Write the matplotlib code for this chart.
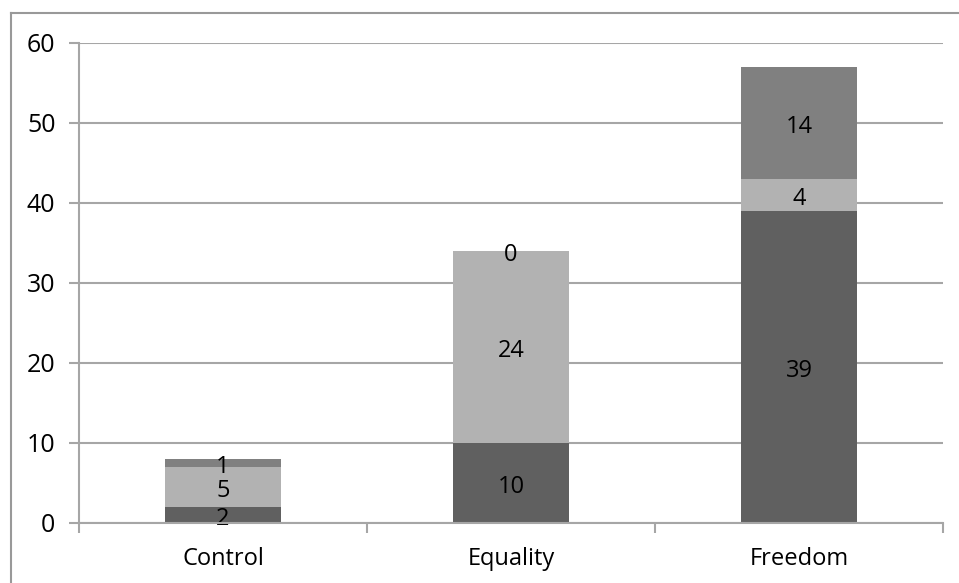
import matplotlib.pyplot as plt
from matplotlib.lines import Line2D
import numpy as np

plt.rcParams['font.family'] = ['Open Sans', 'DejaVu Sans']

# Data
categories = ['Control', 'Equality', 'Freedom']
bottom_vals = [2, 10, 39]
middle_vals = [5, 24, 4]
top_vals = [1, 0, 14]

colors = ['#606060', '#b2b2b2', '#808080']

fig = plt.figure(figsize=(9.59, 5.83), dpi=100)
ax = fig.add_axes([79 / 959, 1 - 523 / 583, (943 - 79) / 959, (523 - 43) / 583])

x = np.arange(len(categories))
base = np.zeros(len(categories))
for vals, c in zip([bottom_vals, middle_vals, top_vals], colors):
    ax.bar(x, vals, width=0.4, bottom=base, color=c, zorder=3)
    # value labels in the middle of each segment
    for xi, b, v in zip(x, base, vals):
        ax.annotate(str(v), (xi, b + v / 2), xytext=(0, -3), textcoords='offset points',
                    ha='center', va='center', fontsize=17, color='black', zorder=4)
    base += np.array(vals)

ax.set_xlim(-0.5, 2.5)
ax.set_ylim(0, 60)
ax.set_yticks(range(0, 61, 10))
ax.yaxis.grid(True, color='#a6a6a6', linewidth=1.5, zorder=0)

# category boundary ticks like Excel
ax.set_xticks([-0.5, 0.5, 1.5, 2.5])
ax.set_xticklabels([])
ax.set_xticks(x, minor=True)
ax.set_xticklabels(categories, minor=True, fontsize=17)
ax.tick_params(axis='x', which='minor', length=0, pad=17)
ax.tick_params(axis='x', which='major', length=7, width=1.5, color='#a6a6a6')
ax.tick_params(axis='y', length=7, width=1.5, color='#a6a6a6', labelsize=18, pad=10)

for s in ['top', 'right']:
    ax.spines[s].set_visible(False)
for s in ['left', 'bottom']:
    ax.spines[s].set_color('#a6a6a6')
    ax.spines[s].set_linewidth(1.5)
    ax.spines[s].set_zorder(5)

# outer chart frame
fig.add_artist(Line2D([10.5 / 959, 10.5 / 959], [0, 1 - 13 / 583],
                      transform=fig.transFigure, color='#999999', linewidth=1.5))
fig.add_artist(Line2D([10.5 / 959, 1], [1 - 13 / 583, 1 - 13 / 583],
                      transform=fig.transFigure, color='#999999', linewidth=1.5))

fig.savefig('out.png', dpi=100)
